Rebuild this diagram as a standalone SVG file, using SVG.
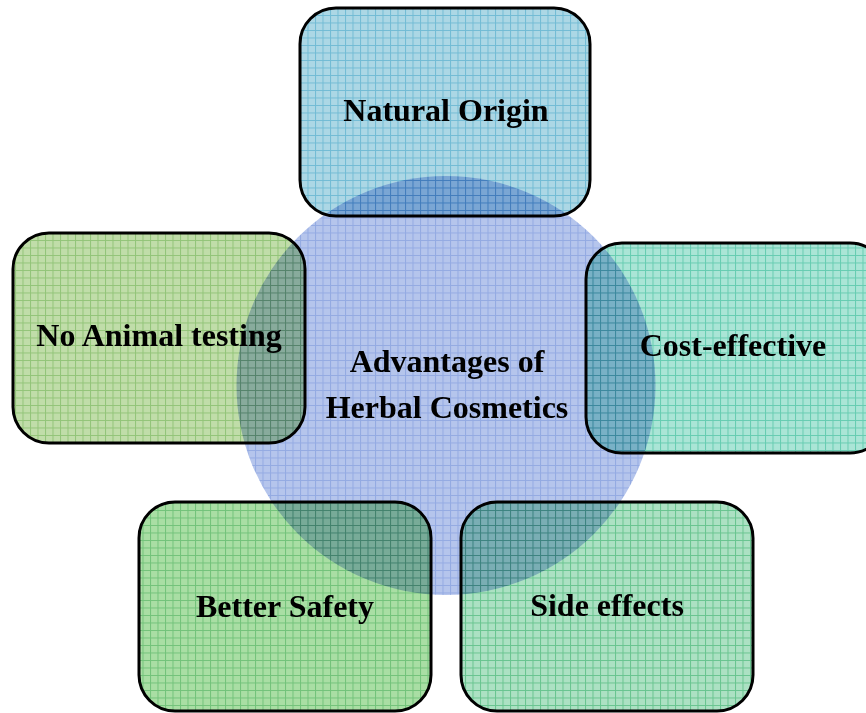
<svg xmlns="http://www.w3.org/2000/svg" width="866" height="713" viewBox="0 0 866 713">
  <defs>
    <!-- graph-paper fills: light base with a thin grid every 7.5px -->
    <pattern id="gridBlue" patternUnits="userSpaceOnUse" width="7.5" height="7.5">
      <rect width="7.5" height="7.5" fill="#acd7e5"/>
      <path d="M0 0.5H7.5M0.5 0V7.5" stroke="#72bbd4" stroke-width="1"/>
    </pattern>
    <pattern id="gridHub" patternUnits="userSpaceOnUse" width="7.5" height="7.5">
      <rect width="7.5" height="7.5" fill="#9cb1e6"/>
      <path d="M0 0.5H7.5M0.5 0V7.5" stroke="#6f8ed9" stroke-width="1"/>
    </pattern>
    <pattern id="gridLime" patternUnits="userSpaceOnUse" width="7.5" height="7.5">
      <rect width="7.5" height="7.5" fill="#c0dda9"/>
      <path d="M0 0.5H7.5M0.5 0V7.5" stroke="#92c478" stroke-width="1"/>
    </pattern>
    <pattern id="gridTeal" patternUnits="userSpaceOnUse" width="7.5" height="7.5">
      <rect width="7.5" height="7.5" fill="#aae5d6"/>
      <path d="M0 0.5H7.5M0.5 0V7.5" stroke="#66ccb1" stroke-width="1"/>
    </pattern>
    <pattern id="gridGreen" patternUnits="userSpaceOnUse" width="7.5" height="7.5">
      <rect width="7.5" height="7.5" fill="#a9dea4"/>
      <path d="M0 0.5H7.5M0.5 0V7.5" stroke="#72c27a" stroke-width="1"/>
    </pattern>
    <pattern id="gridMint" patternUnits="userSpaceOnUse" width="7.5" height="7.5">
      <rect width="7.5" height="7.5" fill="#ace1c3"/>
      <path d="M0 0.5H7.5M0.5 0V7.5" stroke="#68c48f" stroke-width="1"/>
    </pattern>
  </defs>
  <style>
    .box { stroke: #000; stroke-width: 3; }
    .hub { mix-blend-mode: multiply; }
    .lbl { font-family: "Liberation Serif", "Times New Roman", serif; font-weight: bold; font-size: 32px; fill: #000; text-anchor: middle; }
  </style>

  <rect width="866" height="713" fill="#fff"/>

  <!-- surrounding boxes -->
  <g id="node-natural-origin">
    <rect class="box" x="300" y="8" width="290" height="208" rx="36" fill="url(#gridBlue)"/>
  </g>
  <g id="node-no-animal-testing">
    <rect class="box" x="13" y="233" width="292" height="210" rx="36" fill="url(#gridLime)"/>
  </g>
  <g id="node-cost-effective">
    <rect class="box" x="586" y="243" width="300" height="210" rx="36" fill="url(#gridTeal)"/>
  </g>
  <g id="node-better-safety">
    <rect class="box" x="139" y="502" width="292" height="209" rx="36" fill="url(#gridGreen)"/>
  </g>
  <g id="node-side-effects">
    <rect class="box" x="461" y="502" width="292" height="209" rx="36" fill="url(#gridMint)"/>
  </g>

  <!-- central hub, blended over the boxes -->
  <g id="node-hub">
    <circle class="hub" cx="446" cy="385.5" r="209.5" fill="url(#gridHub)" opacity="0.75"/>
  </g>

  <g id="connectors"/>

  <!-- labels -->
  <g id="labels">
    <text class="lbl" x="446" y="121">Natural Origin</text>
    <text class="lbl" x="159" y="346">No Animal testing</text>
    <text class="lbl" x="733" y="356">Cost-effective</text>
    <text class="lbl" x="285" y="617">Better Safety</text>
    <text class="lbl" x="607" y="616">Side effects</text>
    <text class="lbl" x="447" y="372">Advantages of</text>
    <text class="lbl" x="447" y="418">Herbal Cosmetics</text>
  </g>
</svg>
